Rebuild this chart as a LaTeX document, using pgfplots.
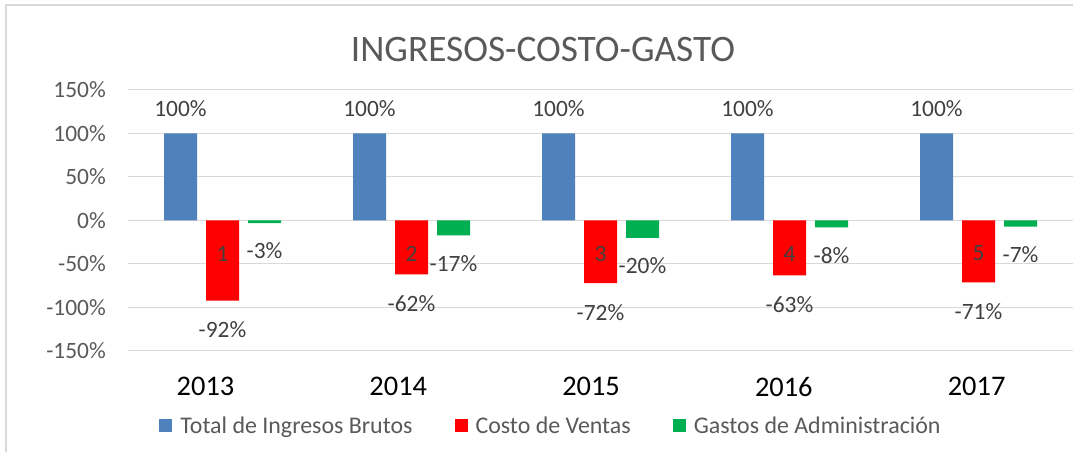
\documentclass[border=0pt]{standalone}
\usepackage{fontspec}
\setmainfont{Carlito}
\usepackage{pgfplots}
\pgfplotsset{compat=1.18}
\definecolor{ingBlue}{HTML}{4F81BD}
\definecolor{costRed}{HTML}{FF0000}
\definecolor{gasGreen}{HTML}{00B050}
\definecolor{gridGray}{HTML}{D9D9D9}
\definecolor{txtGray}{HTML}{595959}
\definecolor{lblGray}{HTML}{404040}

\begin{document}
\begin{tikzpicture}
\useasboundingbox (0,0) rectangle (1073bp,452bp);
\draw[gridGray, line width=1.5bp] (6bp,0) -- (6bp,447bp) -- (1073bp,447bp);
\node[txtGray, font=\fontsize{37.5}{42}\selectfont] at (543bp,402bp) {INGRESOS-COSTO-GASTO};
\begin{axis}[
    at={(128bp,101bp)}, anchor=south west,
    scale only axis, width=945bp, height=261bp,
    ybar=9bp, bar width=33bp,
    xmin=-0.5, xmax=4.5,
    ymin=-150, ymax=150,
    ytick={-150,-100,...,150},
    xtick={-0.09,0.93,1.95,2.97,3.99},
    xticklabels={2013,2014,2015,2016,2017},
    /pgf/number format/assume math mode=true,
    yticklabel={\pgfmathprintnumber{\tick}\%},
    yticklabel style={font=\fontsize{23.5}{26}\selectfont, text=txtGray, anchor=east, inner sep=0pt, xshift=-22bp},
    xticklabel style={font=\fontsize{28.5}{32}\selectfont, text=black, anchor=north, inner sep=0pt, yshift=-26bp},
    axis line style={draw=none},
    major tick length=0pt,
    ymajorgrids,
    major grid style={gridGray, line width=1bp},
    nodes near coords={\pgfmathprintnumber{\pgfplotspointmeta}\%},
    nodes near coords style={font=\fontsize{23.5}{26}\selectfont, text=lblGray, anchor=center},
    legend style={at={(0.4476,-0.2854)}, anchor=center, draw=none, fill=none,
        legend columns=-1, font=\fontsize{24}{27}\selectfont, text=txtGray,
        /tikz/every even column/.append style={column sep=40bp}},
    legend image code/.code={\path[#1, draw=none] (0bp,-6.5bp) rectangle (13bp,6.5bp);},
]
\addplot[fill=ingBlue, draw=none, every node near coord/.append style={yshift=25bp}]
  coordinates {(0,100) (1,100) (2,100) (3,100) (4,100)};
\addplot[fill=costRed, draw=none, every node near coord/.append style={yshift=-29bp}]
  coordinates {(0,-92) (1,-62) (2,-72) (3,-63) (4,-71)};
\addplot[fill=gasGreen, draw=none, every node near coord/.append style={yshift=-28bp}]
  coordinates {(0,-3) (1,-17) (2,-20) (3,-8) (4,-7)};
\legend{\hspace{6bp}Total de Ingresos Brutos, \hspace{6bp}Costo de Ventas, \hspace{6bp}Gastos de Administración}
\foreach \i in {0,...,4} {
  \pgfmathtruncatemacro{\n}{\i+1}
  \edef\temp{\noexpand\node[lblGray, font=\noexpand\fontsize{23.5}{26}\noexpand\selectfont] at (axis cs:\i,-38) {\n};}
  \temp
}
\end{axis}
\end{tikzpicture}
\end{document}
